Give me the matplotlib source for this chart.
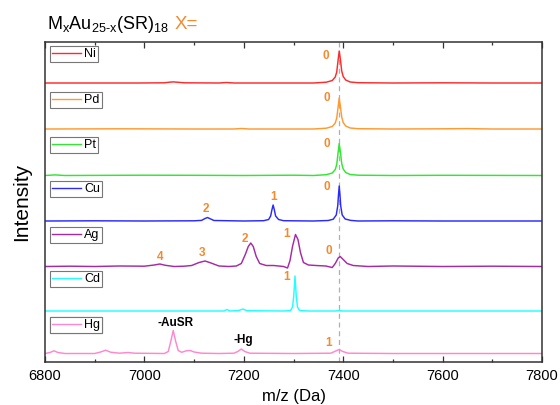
import matplotlib
matplotlib.use("Agg")
import matplotlib.pyplot as plt
from matplotlib.lines import Line2D
from matplotlib.ticker import MultipleLocator

plt.rcParams['font.family'] = ['Liberation Sans', 'DejaVu Sans']
plt.rcParams['mathtext.fontset'] = 'custom'
plt.rcParams['mathtext.rm'] = 'Liberation Sans'
plt.rcParams['mathtext.it'] = 'Liberation Sans'

# ---------------- data ----------------
names = ['Ni', 'Pd', 'Pt', 'Cu', 'Ag', 'Cd', 'Hg']
colors = ['#ff2a2a', '#ff9a30', '#33e633', '#2a2aff', '#a62aa6', '#22ffff', '#ff88cc']
offsets = [279, 233, 186.5, 141, 95.5, 51, 8.5]

Ni_mz = [6800, 6990, 7040, 7052, 7058, 7066, 7080, 7150, 7165, 7180, 7340, 7366, 7378,
         7384, 7387, 7389.5, 7392, 7394.5, 7397, 7400, 7405, 7414, 7430, 7500, 7600, 7700, 7800]
Ni_int = [0, 0, 0.2, 0.9, 1.1, 0.8, 0.2, 0, 0.5, 0, 0, 0.8, 2.5,
          6, 11, 22, 32, 23, 12, 6.5, 3, 1, 0.3, 0, 0.2, 0, 0]

Pd_mz = [6800, 6950, 7100, 7180, 7195, 7210, 7340, 7366, 7378,
         7384, 7387, 7389.5, 7392, 7394.5, 7397, 7400, 7405, 7414, 7430, 7500, 7600, 7650, 7700, 7800]
Pd_int = [0, 0.2, 0, 0, 0.5, 0, 0, 0.8, 2.5,
          6, 11, 21, 31, 22, 12, 6.5, 3, 1, 0.3, 0, 0.2, 0.4, 0, 0]

Pt_mz = [6800, 6820, 6840, 7000, 7100, 7200, 7300, 7340, 7366, 7378,
         7384, 7387, 7389.5, 7392, 7394.5, 7397, 7400, 7405, 7414, 7430, 7500, 7600, 7800]
Pt_int = [0, 0.6, 0, 0.3, 0.2, 0, 0.3, 0, 0.8, 2.5,
          6, 11, 22, 32, 23, 12, 6.5, 3, 1, 0.3, 0, 0.2, 0]

Cu_mz = [6800, 6900, 7000, 7100, 7115, 7122, 7127, 7132, 7140, 7200, 7240, 7250, 7254, 7256.5,
         7259, 7261.5, 7264, 7270, 7280, 7340, 7370, 7380, 7386, 7389, 7390.5, 7392, 7393.5,
         7395, 7398, 7404, 7415, 7430, 7500, 7600, 7700, 7800]
Cu_int = [0, 0.2, 0, 0.2, 0.6, 2.5, 3.5, 2.3, 0.5, 0, 0.3, 1.5, 5, 11,
          16, 11, 5, 1.5, 0.3, 0, 0.5, 1.8, 6, 15, 26, 35, 26,
          15, 6, 2, 0.6, 0, 0.2, 0, 0, 0]

Ag_mz = [6800, 6850, 6900, 6950, 7000, 7020, 7031, 7042, 7060, 7080, 7095, 7110, 7122, 7134,
         7150, 7170, 7185, 7195, 7203, 7209, 7214, 7219, 7225, 7232, 7245, 7260, 7280, 7288,
         7293, 7298, 7304, 7309, 7314, 7320, 7330, 7345, 7365, 7378, 7384, 7390, 7394, 7400,
         7408, 7420, 7450, 7500, 7600, 7700, 7800]
Ag_int = [0, 0.3, 0, 0.5, 0.3, 1.5, 2.5, 1.2, 0, 0.3, 1.0, 4, 5.5, 3.5,
          0.5, 0, 0.5, 3, 12, 20, 23.5, 20, 10, 3, 1, 1, 0, -1.5,
          6, 20, 32, 27, 14, 4, 1.5, 1, 0.5, -1, 3, 8.5, 10, 7,
          3, 1, 0, 0.5, 0, 0.3, 0]

Cd_mz = [6800, 7000, 7160, 7166, 7172, 7190, 7198, 7206, 7280, 7294, 7298, 7300.5,
         7303, 7305.5, 7308, 7312, 7330, 7385, 7392, 7399, 7800]
Cd_int = [0, 0, 0, 1.5, 0, 0.5, 2, 0.3, 0, 0.5, 4, 15,
          35, 15, 4, 0.5, 0, 0, 0.5, 0, 0]

Hg_mz = [6800, 6810, 6818, 6826, 6840, 6900, 6912, 6922, 6932, 6950, 6967, 6980, 7040,
         7048, 7053, 7058, 7063, 7068, 7075, 7085, 7092, 7100, 7115, 7150, 7180, 7188,
         7195, 7202, 7212, 7300, 7375, 7385, 7392, 7399, 7410, 7500, 7800]
Hg_int = [0, 1, 2.7, 1, 0, 0, 1.5, 3.3, 1.3, 0.3, 1, 0.3, 0,
          2, 12, 23, 12, 3, 1.2, 2.8, 3, 1.5, 0.3, 0, 0.3, 2,
          4.5, 2, 0.3, 0, 0.3, 2.5, 4, 2, 0.3, 0, 0]

series_mz = [Ni_mz, Pd_mz, Pt_mz, Cu_mz, Ag_mz, Cd_mz, Hg_mz]
series_int = [Ni_int, Pd_int, Pt_int, Cu_int, Ag_int, Cd_int, Hg_int]

# peak annotations: (m/z, y, text)
num_labels = [(7365, 306, '0'), (7367, 264, '0'), (7367, 218, '0'), (7367, 175, '0'),
              (7260, 165, '1'), (7124, 153, '2'),
              (7031, 104.5, '4'), (7116, 108.5, '3'), (7203, 123.5, '2'), (7287, 128, '1'),
              (7371, 111, '0'), (7286, 84.5, '1'), (7370, 18.5, '1')]
txt_labels = [(7063, 38.5, '-AuSR'), (7199, 22.5, '-Hg')]

legend_tops = [316, 270, 225, 181, 135, 91, 45]
ref_mz = 7392

# ---------------- figure ----------------
fig = plt.figure(figsize=(5.6, 4.05), dpi=100)
ax = fig.add_axes([45/560, 1-362/405, 497/560, 320/405])

ax.axvline(ref_mz, color='#b0b0b0', lw=0.9, dashes=(4, 3), zorder=1)

for name, col, off, mz, inten, top in zip(names, colors, offsets, series_mz, series_int, legend_tops):
    ax.plot(mz, [v + off for v in inten], color=col, lw=1.05, zorder=2)
    h = Line2D([], [], color=col, lw=1.0)
    leg = ax.legend([h], [name], loc='upper left', bbox_to_anchor=(6810, top),
                    bbox_transform=ax.transData, borderaxespad=0, fancybox=False,
                    frameon=True, edgecolor='#777777', framealpha=1, fontsize=9,
                    handlelength=2.3, handletextpad=0.3, borderpad=0.15)
    leg.get_frame().set_linewidth(0.8)
    ax.add_artist(leg)

orange = '#f28a2e'
for x, y, t in num_labels:
    ax.text(x, y, t, color=orange, fontsize=8.5, fontweight='bold', ha='center', va='center')
for x, y, t in txt_labels:
    ax.text(x, y, t, color='black', fontsize=8.5, fontweight='bold', ha='center', va='center')

ax.set_xlim(6800, 7800)
ax.set_ylim(0, 320)
ax.set_yticks([])
ax.xaxis.set_major_locator(MultipleLocator(200))
ax.xaxis.set_minor_locator(MultipleLocator(100))
ax.tick_params(axis='x', which='both', direction='in', top=True, bottom=True,
               labelsize=10.5, pad=5, color='#333333')
ax.tick_params(axis='x', which='major', length=4, width=0.9)
ax.tick_params(axis='x', which='minor', length=2.5, width=0.9)
for s in ax.spines.values():
    s.set_color('#333333')
    s.set_linewidth(1.1)

ax.set_xlabel('m/z (Da)', fontsize=12, labelpad=4)
ax.set_ylabel('Intensity', fontsize=15, labelpad=10)

fig.text(47/560, 1-29/405, r'$\mathregular{M_xAu_{25\text{-}x}(SR)_{18}}$', fontsize=13,
         va='baseline', ha='left')
fig.text(175/560, 1-29/405, 'X=', fontsize=13.5, color=orange, va='baseline', ha='left')

fig.savefig('out.png', dpi=100)
